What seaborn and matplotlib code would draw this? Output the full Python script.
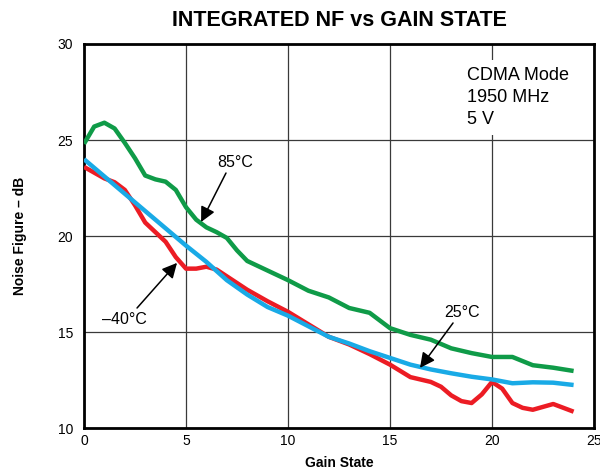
import pandas as pd
import seaborn as sns
import matplotlib
matplotlib.use("Agg")
import matplotlib.pyplot as plt

# Noise figure (dB) vs gain state
x_85c = [0, 0.5, 1, 1.5, 2, 2.5, 3, 3.5, 4, 4.5, 5, 5.5, 6, 6.5, 7, 7.5, 8, 9, 10, 11, 12,
         13, 14, 15, 16, 17, 18, 19, 20, 21, 22, 23, 24]
nf_85c = [24.8, 25.7, 25.9, 25.6, 24.85, 24.05, 23.15, 22.95, 22.83, 22.4, 21.5, 20.85,
          20.45, 20.2, 19.9, 19.25, 18.7, 18.2, 17.7, 17.15, 16.8, 16.25, 16.0, 15.2, 14.85,
          14.6, 14.15, 13.9, 13.7, 13.7, 13.27, 13.14, 12.97]

x_m40c = [0, 0.5, 1, 1.5, 2, 2.5, 3, 3.5, 4, 4.5, 5, 5.5, 6, 6.5, 7, 8, 9, 10, 11, 12, 13,
          14, 15, 16, 17, 17.5, 18, 18.5, 19, 19.5, 20, 20.5, 21, 21.5, 22, 22.5, 23, 23.5, 24]
nf_m40c = [23.6, 23.3, 23.0, 22.8, 22.4, 21.6, 20.7, 20.2, 19.7, 18.9, 18.3, 18.3, 18.4,
           18.25, 17.9, 17.2, 16.6, 16.05, 15.4, 14.75, 14.35, 13.85, 13.3, 12.65, 12.4,
           12.15, 11.7, 11.4, 11.3, 11.75, 12.4, 12.05, 11.3, 11.05, 10.95, 11.1, 11.25,
           11.05, 10.85]

x_25c = list(range(25))
nf_25c = [24.0, 23.1, 22.2, 21.3, 20.4, 19.5, 18.65, 17.7, 16.95, 16.3, 15.85, 15.3, 14.75,
          14.4, 14.0, 13.65, 13.3, 13.05, 12.85, 12.67, 12.53, 12.33, 12.38, 12.36, 12.24]

temps = ["85°C", "–40°C", "25°C"]
colors = {"85°C": "#0f9b48", "–40°C": "#ec1c24", "25°C": "#19aae6"}

df = pd.concat([
    pd.DataFrame({"Gain State": xs, "NF": vals, "Temp": t})
    for t, xs, vals in zip(temps, [x_85c, x_m40c, x_25c], [nf_85c, nf_m40c, nf_25c])
])

sns.set_style("white")
plt.rcParams["font.family"] = ["Liberation Sans", "DejaVu Sans"]
plt.rcParams["text.color"] = "black"
plt.rcParams["axes.labelcolor"] = "black"

fig = plt.figure(figsize=(6.0, 4.73), dpi=100)
ax = fig.add_axes([84 / 600, 1 - 428 / 473, 510 / 600, 384 / 473])

sns.lineplot(data=df, x="Gain State", y="NF", hue="Temp", hue_order=temps,
             palette=colors, linewidth=3.2, legend=False, ax=ax,
             solid_joinstyle="round", solid_capstyle="butt", zorder=3)

ax.set_xlim(0, 25)
ax.set_ylim(10, 30)
ax.set_xticks(range(0, 26, 5))
ax.set_yticks(range(10, 31, 5))
ax.grid(True, color="#3a3a3a", linewidth=0.9)
ax.tick_params(length=0, labelsize=10, colors="black")
ax.tick_params(axis="y", pad=8)
ax.tick_params(axis="x", pad=4)
for s in ax.spines.values():
    s.set_visible(True)
    s.set_color("black")
    s.set_linewidth(2)

ax.set_xlabel("Gain State", fontsize=10, fontweight="bold", labelpad=6, color="black")
ax.set_ylabel("Noise Figure – dB", fontsize=10, fontweight="bold", color="black")
ax.yaxis.set_label_coords(-0.112, 0.5)
ax.set_title("INTEGRATED NF vs GAIN STATE", fontsize=15.5, fontweight="bold", pad=13,
             color="black")

# conditions box
ax.text(18.77, 28.8, "CDMA Mode\n1950 MHz\n5 V", fontsize=13, va="top", ha="left",
        linespacing=1.4, zorder=4, color="black",
        bbox=dict(facecolor="white", edgecolor="none", pad=5))

# curve labels with arrows
arrow = dict(arrowstyle="-|>,head_length=0.9,head_width=0.45", color="black",
             lw=1.1, shrinkA=0, shrinkB=0)
ax.text(7.4, 23.85, "85°C", fontsize=11.5, ha="center", va="center", color="black")
ax.annotate("", xy=(5.74, 20.73), xytext=(6.96, 23.28), arrowprops=arrow)
ax.text(2.0, 15.63, "–40°C", fontsize=11.5, ha="center", va="center", color="black")
ax.annotate("", xy=(4.56, 18.6), xytext=(2.6, 16.25), arrowprops=arrow)
ax.text(18.53, 16.04, "25°C", fontsize=11.5, ha="center", va="center", color="black")
ax.annotate("", xy=(16.47, 13.13), xytext=(18.09, 15.47), arrowprops=arrow)

fig.savefig("out.png", dpi=100)
